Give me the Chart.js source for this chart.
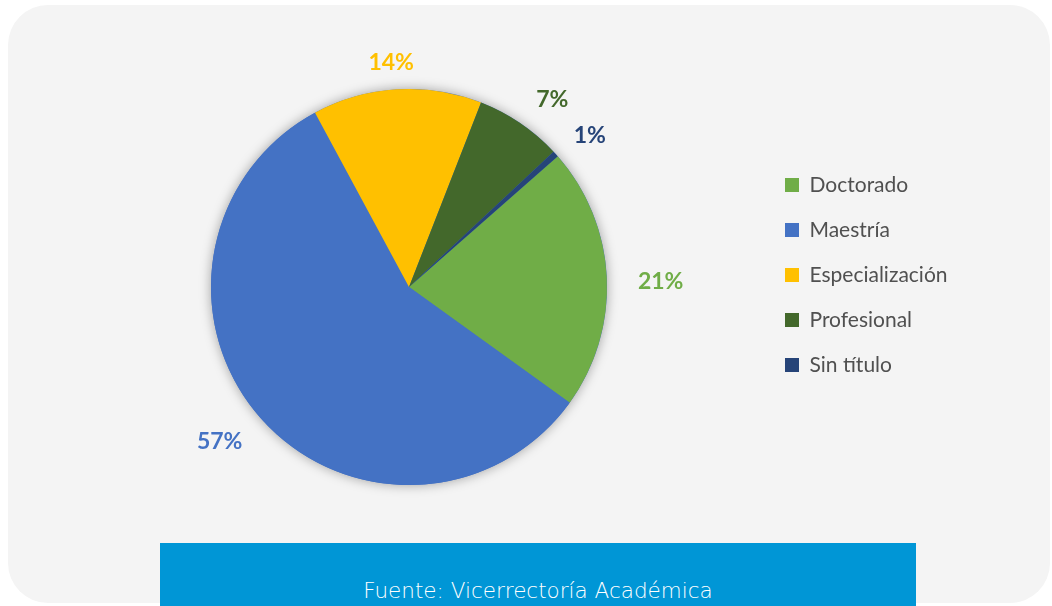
<!DOCTYPE html>
<html>
<head>
<meta charset="utf-8">
<script src="https://cdn.jsdelivr.net/npm/chart.js@4.4.1/dist/chart.umd.min.js"></script>
<style>
  html, body { margin: 0; padding: 0; background: #ffffff; }
  body { width: 1052px; height: 606px; position: relative; overflow: hidden; }
  .card {
    position: absolute; left: 8px; top: 5px; width: 1042px; height: 598px;
    background: #f4f4f4; border-radius: 40px;
  }
  .source {
    position: absolute; left: 160px; top: 543px; width: 756px; height: 70px;
    background: #0096d6;
  }
  .source span {
    position: absolute; left: 0; right: 0; top: 37px; text-align: center;
    color: #ffffff; font-family: "DejaVu Sans", sans-serif; font-weight: 200;
    font-size: 21.5px; line-height: 21px;
  }
  #pie { position: absolute; left: 0; top: 0; }
</style>
</head>
<body>
<div class="card"></div>
<div class="source"><span>Fuente: Vicerrectoría Académica</span></div>
<canvas id="pie" width="1052" height="606"></canvas>
<script>
// categories and shares (percent)
const categories = ['Doctorado', 'Maestría', 'Especialización', 'Profesional', 'Sin título'];
const shares = [21.4, 57.2, 13.8, 7.1, 0.5];
const sliceColors = ['#70ad47', '#4472c4', '#ffc000', '#43682b', '#264478'];

// label placement: radial gap beyond the pie edge, plus a small nudge
const labelGap = [54, 46, 28, 38, 38];
const labelNudge = [[0, 7], [-6, -6], [-4, 1], [11, 8], [6, 7]];

// draws the percent labels outside each slice
const outsideLabels = {
    id: 'outsideLabels',
    afterDatasetsDraw(chart) {
        const ctx = chart.ctx;
        const meta = chart.getDatasetMeta(0);
        const total = shares.reduce((a, b) => a + b, 0);
        ctx.save();
        ctx.font = 'bold 23px Lato';
        ctx.textAlign = 'center';
        ctx.textBaseline = 'middle';
        meta.data.forEach((arc, i) => {
            const p = arc.getProps(['x', 'y', 'startAngle', 'endAngle', 'outerRadius'], true);
            const mid = (p.startAngle + p.endAngle) / 2;
            const r = p.outerRadius + labelGap[i];
            ctx.fillStyle = sliceColors[i];
            ctx.fillText(Math.round(shares[i] * 100 / total) + '%',
                p.x + Math.cos(mid) * r + labelNudge[i][0],
                p.y + Math.sin(mid) * r + labelNudge[i][1]);
        });
        ctx.restore();
    }
};

// soft shadow behind the whole pie
const pieShadow = {
    id: 'pieShadow',
    beforeDatasetsDraw(chart) {
        const arc = chart.getDatasetMeta(0).data[0];
        if (!arc) return;
        const ctx = chart.ctx;
        ctx.save();
        ctx.shadowColor = 'rgba(0,0,0,0.35)';
        ctx.shadowBlur = 12;
        ctx.beginPath();
        ctx.arc(arc.x, arc.y, arc.outerRadius, 0, Math.PI * 2);
        ctx.fillStyle = '#4472c4';
        ctx.fill();
        ctx.restore();
    }
};

// fixed legend width and a small upward nudge
const legendPlace = {
    id: 'legendPlace',
    beforeInit(chart) {
        const fit = chart.legend.fit;
        chart.legend.fit = function () {
            fit.bind(chart.legend)();
            this.width = 291;
        };
    },
    afterLayout(chart) {
        chart.legend.top -= 12;
        chart.legend.bottom -= 12;
    }
};

new Chart(document.getElementById('pie'), {
    type: 'pie',
    data: {
        labels: categories,
        datasets: [{
            data: shares,
            backgroundColor: sliceColors,
            borderWidth: 0,
            offset: 0,
            hoverOffset: 0
        }]
    },
    options: {
        responsive: false,
        animation: false,
        rotation: 48.7,
        layout: {
            padding: { top: 89, bottom: 121, left: 57, right: 0 }
        },
        plugins: {
            tooltip: { enabled: false },
            legend: {
                position: 'right',
                labels: {
                    boxWidth: 14,
                    boxHeight: 14,
                    padding: 24,
                    color: '#505050',
                    font: { family: 'Lato', size: 21 }
                }
            }
        }
    },
    plugins: [pieShadow, outsideLabels, legendPlace]
});
</script>
</body>
</html>
